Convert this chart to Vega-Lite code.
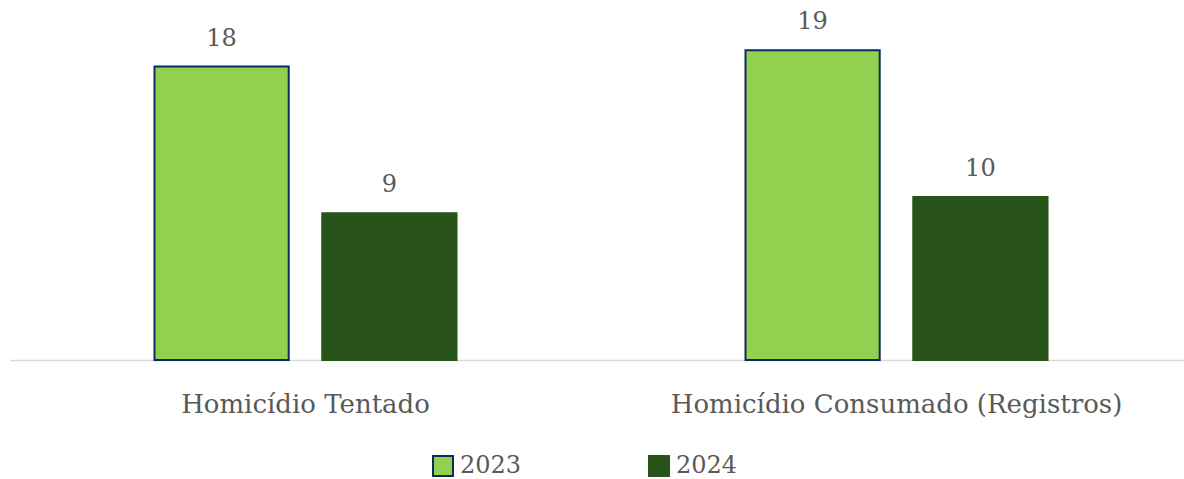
{
  "$schema": "https://vega.github.io/schema/vega-lite/v6.json",
  "autosize": "none",
  "width": 1182,
  "height": 326,
  "padding": {"left": 10, "top": 34, "right": 0, "bottom": 119},
  "background": "white",
  "config": {"view": {"stroke": null}, "font": "DejaVu Serif"},
  "data": {"values": [
    {"categoria": "Homicídio Tentado", "ano": "2023", "valor": 18},
    {"categoria": "Homicídio Tentado", "ano": "2024", "valor": 9},
    {"categoria": "Homicídio Consumado (Registros)", "ano": "2023", "valor": 19},
    {"categoria": "Homicídio Consumado (Registros)", "ano": "2024", "valor": 10}
  ]},
  "encoding": {
    "x": {"field": "categoria", "type": "nominal", "sort": null,
      "scale": {"paddingInner": 0.489, "paddingOuter": 0.2445},
      "axis": {"title": null, "labelAngle": 0, "labelFontSize": 26, "labelColor": "#595959", "labelPadding": 31, "labelLimit": 0, "ticks": false, "domainColor": "#D9D9D9", "domainWidth": 1.5, "labelFont": "DejaVu Serif"}},
    "xOffset": {"field": "ano", "type": "nominal", "scale": {"paddingInner": 0.2, "paddingOuter": 0}},
    "y": {"field": "valor", "type": "quantitative", "scale": {"domain": [0, 20]}, "axis": null}
  },
  "layer": [
    {
      "mark": {"type": "bar", "strokeWidth": 2},
      "encoding": {
        "color": {"field": "ano", "type": "nominal", "scale": {"domain": ["2023", "2024"], "range": ["#92D050", "#285319"]},
          "legend": {"title": null, "orient": "none", "legendX": 421, "legendY": 420, "direction": "horizontal", "symbolType": "square", "symbolSize": 400, "symbolStrokeWidth": 2, "labelFontSize": 24, "labelColor": "#595959", "labelFont": "DejaVu Serif", "columnPadding": 123, "labelOffset": 5, "symbolOpacity": 1}},
        "stroke": {"field": "ano", "type": "nominal", "scale": {"domain": ["2023", "2024"], "range": ["#0E2A5E", "#285319"]}}
      }
    },
    {
      "mark": {"type": "text", "baseline": "bottom", "dy": -16, "fontSize": 24, "color": "#595959", "font": "DejaVu Serif"},
      "encoding": {"text": {"field": "valor", "type": "quantitative"}}
    }
  ]
}
